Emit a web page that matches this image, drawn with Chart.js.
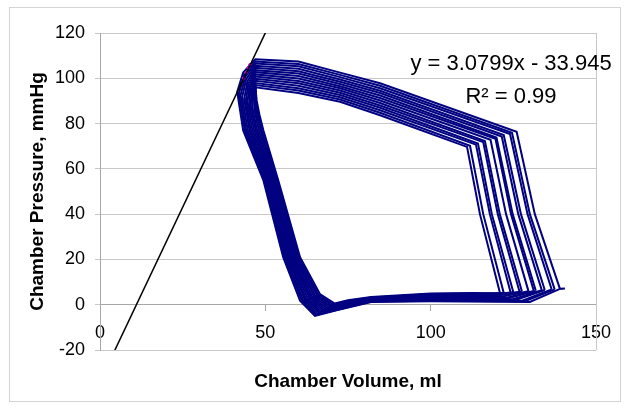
<!DOCTYPE html>
<html>
<head>
<meta charset="utf-8">
<script src="https://cdn.jsdelivr.net/npm/chart.js@4/dist/chart.umd.min.js"></script>
<style>
html,body{margin:0;padding:0;background:#fff;}
#wrap{width:629px;height:409px;position:relative;}
</style>
</head>
<body>
<div id="wrap"><canvas id="c" width="629" height="409"></canvas></div>
<script>
// ---- data ----
const xTicks = [0, 50, 100, 150];
const yTicks = [-20, 0, 20, 40, 60, 80, 100, 120];
const xTitle = 'Chamber Volume, ml';
const yTitle = 'Chamber Pressure, mmHg';
const eqLine1 = 'y = 3.0799x - 33.945';
const eqLine2 = 'R\u00B2 = 0.99';

// pressure-volume loops [volume ml, pressure mmHg]
const loop01 = [[121.0,5.0],[114.9,40],[111.0,69.7],[84.7,83.7],[72.6,89.6],[60,93.5],[47.0,96.0],[47.4,90.0],[48.2,84.0],[49.4,77],[53.9,55],[60.5,21],[66.5,4.7],[71.0,0.5],[75.0,2.0],[82,3.4],[100,5.0],[113.0,5.2],[121.0,5.0]];
const loop02 = [[122.1,5.2],[115.9,40],[111.9,70.2],[84.7,84.8],[72.6,90.6],[60,94.6],[47.0,97.0],[47.1,91.0],[47.7,84.8],[48.9,77],[53.6,55],[60.1,21],[66.0,4.5],[70.5,0.1],[74.7,1.7],[82,3.2],[100,4.7],[114.0,4.9],[122.1,5.2]];
const loop03 = [[124.2,5.3],[117.9,40],[113.7,70.7],[84.7,85.9],[72.6,91.6],[60,95.6],[47.0,97.9],[46.8,91.9],[47.2,85.5],[48.5,77],[53.2,55],[59.7,21],[65.6,4.3],[70.1,-0.3],[74.5,1.3],[82,3.1],[100,4.5],[116.0,4.6],[124.2,5.3]];
const loop04 = [[125.0,5.5],[118.5,40],[114.3,71.2],[84.7,87.0],[72.6,92.6],[60,96.7],[47.0,98.9],[46.5,92.9],[46.7,86.3],[48.0,77],[52.9,55],[59.3,21],[65.1,4.0],[69.6,-0.7],[74.2,1.0],[82,2.9],[100,4.2],[116.7,4.3],[125.0,5.5]];
const loop05 = [[126.9,5.6],[120.3,40],[115.9,71.8],[84.7,88.0],[72.6,93.6],[60,97.8],[47.0,99.8],[46.1,93.8],[46.1,87.1],[47.5,77],[52.5,55],[58.9,21],[64.7,3.8],[69.2,-1.2],[73.9,0.6],[82,2.7],[100,3.9],[118.5,4.0],[126.9,5.6]];
const loop06 = [[127.6,5.8],[120.9,40],[116.4,72.3],[84.7,89.1],[72.6,94.6],[60,98.8],[47.0,100.8],[45.8,94.8],[45.6,87.8],[47.1,77],[52.2,55],[58.5,21],[64.2,3.6],[68.7,-1.6],[73.7,0.3],[82,2.6],[100,3.7],[119.1,3.7],[127.6,5.8]];
const loop07 = [[129.6,5.9],[122.8,40],[118.1,72.8],[84.7,90.2],[72.6,95.6],[60,99.9],[47.0,101.7],[45.5,95.8],[45.1,88.6],[46.6,77],[51.8,55],[58.1,21],[63.7,3.4],[68.2,-2.0],[73.4,-0.1],[82,2.4],[100,3.4],[121.0,3.4],[129.6,5.9]];
const loop08 = [[131.2,6.1],[124.3,40],[119.6,73.3],[84.7,91.3],[72.6,96.5],[60,101.0],[47.0,102.7],[45.2,96.7],[44.6,89.4],[46.1,77],[51.5,55],[57.8,21],[63.3,3.1],[67.8,-2.4],[73.1,-0.4],[82,2.2],[100,3.1],[122.7,3.0],[131.2,6.1]];
const loop09 = [[131.8,6.2],[124.8,40],[119.9,73.8],[84.7,92.4],[72.6,97.5],[60,102.1],[47.0,103.6],[44.9,97.7],[44.1,90.2],[45.6,77],[51.1,55],[57.4,21],[62.8,2.9],[67.3,-2.8],[72.8,-0.8],[82,2.0],[100,2.8],[123.2,2.7],[131.8,6.2]];
const loop10 = [[133.6,6.4],[126.5,40],[121.5,74.3],[84.7,93.5],[72.6,98.5],[60,103.1],[47.0,104.6],[44.6,98.7],[43.6,90.9],[45.2,77],[50.8,55],[57.0,21],[62.3,2.7],[66.8,-3.2],[72.6,-1.1],[82,1.9],[100,2.6],[124.9,2.4],[133.6,6.4]];
const loop11 = [[134.5,6.5],[127.3,40],[122.1,74.9],[84.7,94.5],[72.6,99.5],[60,104.2],[47.0,105.5],[44.2,99.6],[43.0,91.7],[44.7,77],[50.4,55],[56.6,21],[61.9,2.5],[66.4,-3.7],[72.3,-1.5],[82,1.7],[100,2.3],[125.7,2.1],[134.5,6.5]];
const loop12 = [[136.6,6.7],[129.3,40],[124.0,75.4],[84.7,95.6],[72.6,100.5],[60,105.3],[47.0,106.5],[43.9,100.6],[42.5,92.5],[44.2,77],[50.1,55],[56.2,21],[61.4,2.2],[65.9,-4.1],[72.0,-1.8],[82,1.5],[100,2.0],[127.7,1.8],[136.6,6.7]];
const loop13 = [[137.5,6.8],[130.0,40],[124.6,75.9],[84.7,96.7],[72.6,101.5],[60,106.3],[47.0,107.4],[43.6,101.5],[42.0,93.2],[43.8,77],[49.7,55],[55.8,21],[61.0,2.0],[65.5,-4.5],[71.8,-2.2],[82,1.4],[100,1.8],[128.5,1.5],[137.5,6.8]];
const loop14 = [[140.6,7.2],[139.1,7.0],[131.5,40],[126.0,76.4],[84.7,97.8],[72.6,102.5],[60,107.4],[47.0,108.4],[43.3,102.5],[41.5,94.0],[43.3,77],[49.4,55],[55.4,21],[60.5,1.8],[65.0,-4.9],[71.5,-2.5],[82,1.2],[100,1.5],[130.0,1.2],[139.1,7.0]];
const loops = [loop01, loop02, loop03, loop04, loop05, loop06, loop07, loop08, loop09, loop10, loop11, loop12, loop13, loop14];

// end-systolic points (magenta) and the fitted line endpoints
const esPoints = [[43.4,100.0],[44.2,102.5],[44.8,104.5],[45.3,106.0]];
const fitLine = [[4.0,-21.6],[51.0,123.1]];

// ---- styles ----
const FONT = "'Liberation Sans', Arial, Helvetica, sans-serif";
const NAVY = '#000080';

const toXY = arr => arr.map(p => ({x: p[0], y: p[1]}));

const datasets = [];
datasets.push({data: toXY(fitLine), showLine: true, borderColor: '#000', borderWidth: 1.5, pointRadius: 0, tension: 0, order: 0, clip: 0});
datasets.push({data: toXY(esPoints), showLine: false, backgroundColor: '#e000e0', borderColor: '#e000e0', pointRadius: 1.2, order: 1});
loops.forEach(l => datasets.push({data: toXY(l), showLine: true, borderColor: NAVY, borderWidth: 2.0, pointRadius: 0, tension: 0, order: 2}));

const framePlugin = {
  id: 'frame',
  beforeDraw(chart) {
    const ctx = chart.ctx;
    ctx.save();
    ctx.fillStyle = '#fff';
    ctx.fillRect(0, 0, chart.width, chart.height);
    ctx.strokeStyle = '#d4d4d4';
    ctx.lineWidth = 1;
    ctx.strokeRect(9.5, 7.5, 611, 394);
    ctx.restore();
  },
  beforeDatasetsDraw(chart) {
    const {ctx, chartArea} = chart;
    ctx.save();
    ctx.strokeStyle = '#c8c8c8';
    ctx.lineWidth = 1;
    ctx.beginPath();
    ctx.moveTo(Math.round(chartArea.right) + 0.5, chartArea.top);
    ctx.lineTo(Math.round(chartArea.right) + 0.5, chartArea.bottom);
    ctx.stroke();
    ctx.restore();
  }
};

const eqPlugin = {
  id: 'eq',
  afterDatasetsDraw(chart) {
    const {ctx, scales} = chart;
    const cx = scales.x.getPixelForValue(124.3);
    ctx.save();
    ctx.fillStyle = '#000';
    ctx.font = '22px ' + FONT;
    ctx.textAlign = 'center';
    ctx.textBaseline = 'middle';
    ctx.fillText(eqLine1, cx, scales.y.getPixelForValue(106.3));
    ctx.fillText(eqLine2, cx, scales.y.getPixelForValue(91.7));
    ctx.restore();
  }
};

new Chart(document.getElementById('c'), {
  type: 'scatter',
  data: {datasets},
  options: {
    responsive: false,
    animation: false,
    devicePixelRatio: 1,
    events: [],
    layout: {padding: {left: 10, right: 33, top: 33, bottom: 59}},
    plugins: {legend: {display: false}, tooltip: {enabled: false}},
    scales: {
      x: {
        type: 'linear', min: 0, max: 150,
        position: {y: 0},
        afterBuildTicks(s) { s.ticks = xTicks.map(v => ({value: v})); },
        ticks: {color: '#000', font: {family: FONT, size: 18}, padding: 12, maxRotation: 0},
        grid: {drawOnChartArea: false, color: '#a8a8a8', tickLength: 6},
        border: {color: '#a8a8a8'},
        title: {display: true, text: xTitle, color: '#000', font: {family: FONT, size: 19, weight: 'bold'}, padding: {top: 0, bottom: -38}},
        afterFit(s) { s.height = 50; }
      },
      y: {
        type: 'linear', min: -20, max: 120,
        afterBuildTicks(s) { s.ticks = yTicks.map(v => ({value: v})); },
        ticks: {color: '#000', font: {family: FONT, size: 18}, padding: 10},
        grid: {color: '#c8c8c8', tickLength: 5},
        border: {color: '#a8a8a8'},
        title: {display: true, text: yTitle, color: '#000', font: {family: FONT, size: 19, weight: 'bold'}, padding: {top: 16, bottom: 0}},
        afterFit(s) { s.width = 90; }
      }
    }
  },
  plugins: [framePlugin, eqPlugin]
});
</script>
</body>
</html>
